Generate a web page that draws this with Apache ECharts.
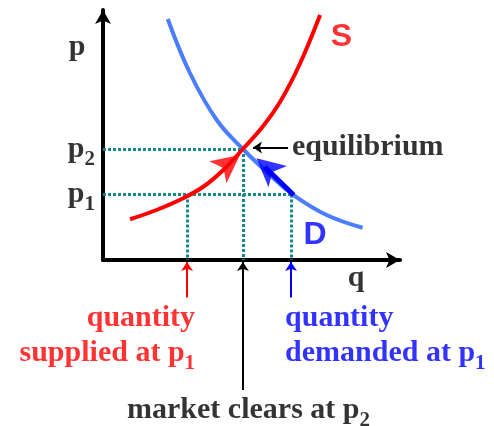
<!DOCTYPE html>
<html>
<head>
<meta charset="utf-8">
<script src="https://cdn.jsdelivr.net/npm/echarts@6/dist/echarts.min.js"></script>
<style>
  html, body { margin: 0; padding: 0; background: #fff; }
  #chart { width: 494px; height: 426px; }
</style>
</head>
<body>
<div id="chart"></div>
<script>
  // supply curve S (q, p)
  const supplyQ = [0.91, 1.8, 2.7, 3.4, 4.05, 4.71, 5.4, 6.0, 6.63, 7.31]
  const supplyP = [1.63, 2.0, 2.47, 2.95, 3.6, 4.44, 5.37, 6.4, 7.85, 9.8]
  // demand curve D (q, p)
  const demandQ = [2.18, 2.93, 3.83, 4.71, 5.73, 6.41, 7.53, 8.74]
  const demandP = [9.64, 7.47, 5.6, 4.44, 3.28, 2.6, 1.8, 1.29]
  // price levels p1, p2 and quantities (supplied at p1, equilibrium, demanded at p1)
  const prices = [2.62, 4.44]
  const quantities = [2.83, 4.71, 6.33]

  const serif = '"Liberation Serif", "Times New Roman", serif'
  const sans = '"Liberation Sans", Arial, sans-serif'
  const RED = '#ff0000'
  const BLUE = '#0000ff'
  const TEAL = '#168a8a'

  const [p1, p2] = prices
  const [qs, qe, qd] = quantities

  // 文字样式（下标用 padding 往下压）
  const rich = (color) => ({
    m: { fontFamily: serif, fontWeight: 'bold', fontSize: 30, color: color, lineHeight: 30, verticalAlign: 'top' },
    s: { fontFamily: serif, fontWeight: 'bold', fontSize: 21, color: color, lineHeight: 21, padding: [15, 0, 0, 0], verticalAlign: 'top' }
  })
  const txt = (q, p, text, color, align) => ({
    value: [q, p],
    label: {
      show: true, position: [0, 0], align: align, verticalAlign: 'middle',
      formatter: text, rich: rich(color)
    }
  })
  const big = (q, p, text, color) => ({
    value: [q, p],
    label: {
      show: true, position: [0, 0], align: 'center', verticalAlign: 'middle',
      formatter: text, fontFamily: sans, fontWeight: 'bold', fontSize: 32, color: color
    }
  })

  const chart = echarts.init(document.getElementById('chart'))
  chart.setOption({
    animation: false,
    grid: { left: 103, right: 94, top: 10, bottom: 166 },
    xAxis: {
      type: 'value', min: 0, max: 10,
      axisLine: { show: true, onZero: false, symbol: ['none', 'arrow'], symbolSize: [12, 14], lineStyle: { color: '#000', width: 4 } },
      axisTick: { show: false }, axisLabel: { show: false }, splitLine: { show: false }
    },
    yAxis: {
      type: 'value', min: 0, max: 10,
      axisLine: { show: true, onZero: false, symbol: ['none', 'arrow'], symbolSize: [12, 14], lineStyle: { color: '#000', width: 4 } },
      axisTick: { show: false }, axisLabel: { show: false }, splitLine: { show: false }
    },
    series: [
      {
        // 虚线辅助线
        type: 'lines', coordinateSystem: 'cartesian2d', z: 1, clip: false,
        symbol: 'none',
        lineStyle: { color: TEAL, width: 3, type: [3, 2], opacity: 1 },
        data: [
          { coords: [[0, p2], [qe, p2]] },
          { coords: [[0, p1], [qd, p1]] },
          { coords: [[qs, p1], [qs, 0]] },
          { coords: [[qe, p2], [qe, 0]] },
          { coords: [[qd, p1], [qd, 0]] }
        ]
      },
      {
        type: 'line', name: 'D', smooth: 0.4, showSymbol: false, clip: false, z: 2,
        lineStyle: { color: '#4a7dff', width: 4 },
        data: demandQ.map((q, i) => [q, demandP[i]])
      },
      {
        type: 'line', name: 'S', smooth: 0.4, showSymbol: false, clip: false, z: 3,
        lineStyle: { color: RED, width: 4 },
        data: supplyQ.map((q, i) => [q, supplyP[i]])
      },
      {
        // 需求曲线上的深蓝箭杆
        type: 'lines', coordinateSystem: 'cartesian2d', z: 4, clip: false,
        symbol: 'none',
        lineStyle: { color: BLUE, width: 5, opacity: 1 },
        data: [{ coords: [[6.42, 2.6], [5.45, 3.72]] }]
      },
      {
        // 曲线上的大箭头（尖端在数据点上）
        type: 'scatter', symbol: 'arrow', clip: false, z: 5, silent: true,
        symbolSize: [21, 28],
        data: [
          { value: [4.61, 4.2], symbolRotate: -52, itemStyle: { color: RED } },
          { value: [5.17, 4.07], symbolRotate: 49, itemStyle: { color: BLUE } }
        ]
      },
      {
        // 标注箭头
        type: 'lines', coordinateSystem: 'cartesian2d', z: 5, clip: false,
        symbol: ['none', 'arrow'], symbolSize: [1, 9],
        data: [
          { coords: [[qs, -1.5], [qs, -0.08]], lineStyle: { color: RED, width: 2, opacity: 1 } },
          { coords: [[qe, -5.2], [qe, -0.08]], lineStyle: { color: '#000', width: 2, opacity: 1 } },
          { coords: [[qd, -1.5], [qd, -0.08]], lineStyle: { color: BLUE, width: 2, opacity: 1 } },
          { coords: [[6.23, p2 + 0.06], [5.05, p2 + 0.06]], lineStyle: { color: '#000', width: 2, opacity: 1 } }
        ]
      },
      {
        // 文字
        type: 'scatter', symbolSize: 0, clip: false, z: 6, silent: true,
        data: [
          txt(-0.875, 8.52, '{m|p}', '#000', 'center'),
          txt(-0.27, p2, '{m|p}{s|2}', '#000', 'right'),
          txt(-0.27, p1, '{m|p}{s|1}', '#000', 'right'),
          txt(8.52, -0.72, '{m|q}', '#000', 'center'),
          txt(6.36, p2 + 0.08, '{m|equilibrium}', '#000', 'left'),
          txt(3.1, -2.32, '{m|quantity}', RED, 'right'),
          txt(3.1, -3.72, '{m|supplied at p}{s|1}', RED, 'right'),
          txt(6.13, -2.32, '{m|quantity}', BLUE, 'left'),
          txt(6.13, -3.72, '{m|demanded at p}{s|1}', BLUE, 'left'),
          txt(4.9, -6.0, '{m|market clears at p}{s|2}', '#000', 'center'),
          big(8.03, 8.93, 'S', RED),
          big(7.14, 1.0, 'D', BLUE)
        ]
      }
    ]
  })
</script>
</body>
</html>
